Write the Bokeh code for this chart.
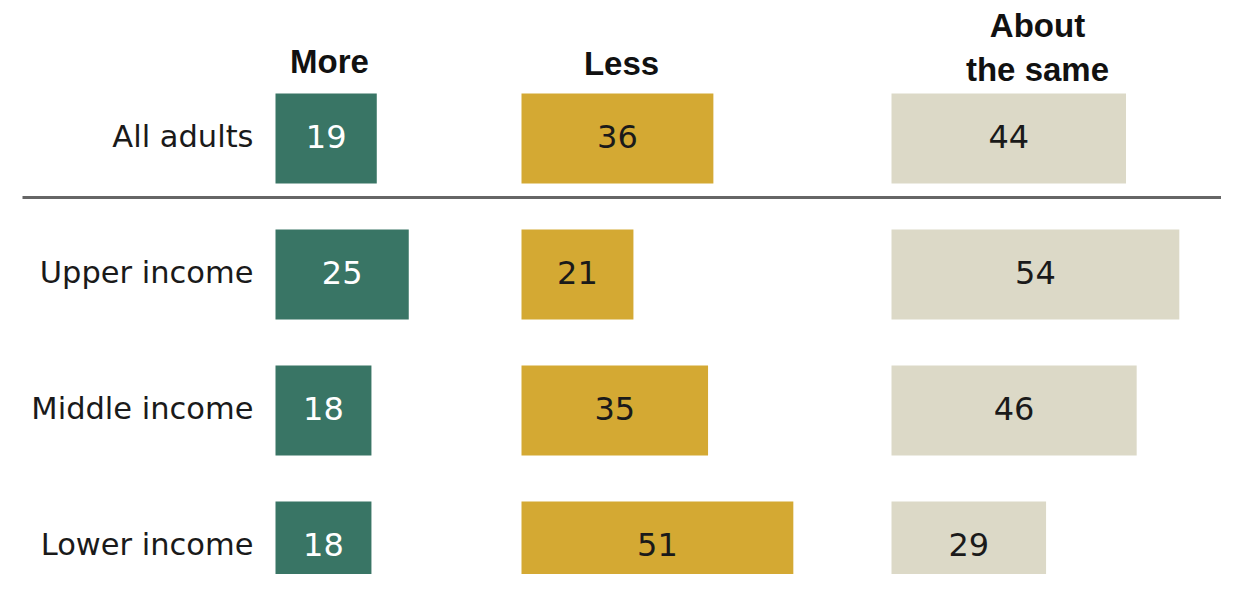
from bokeh.plotting import figure
from bokeh.models import Range1d, ColumnDataSource
from bokeh.core.properties import value
from bokeh.embed import file_html
from bokeh.resources import INLINE

# ---- data ----
groups = ["All adults", "Upper income", "Middle income", "Lower income"]
more = [19, 25, 18, 18]
less = [36, 21, 35, 51]
same = [44, 54, 46, 29]
headers = ["More", "Less", "About\nthe same"]

# ---- layout constants ----
W, H = 1221, 574
PX = 5.33            # pixels per percentage point
ROW = 136.0          # pixels per row
x_start = -275 / PX
x_end = x_start + W / PX
y_bottom = (H - 138) / ROW
y_top = (0 - 138) / ROW

off_more = 0.0
off_less = (521 - 275) / PX
off_same = (891 - 275) / PX
offsets = [off_more, off_less, off_same]
colors = ["#397565", "#D4A933", "#DCD9C7"]
txt_colors = ["#FFFFFF", "#1A1A1A", "#1A1A1A"]
series = [more, less, same]

FONT = "DejaVu Sans"
HFONT = "Liberation Sans"

p = figure(width=W, height=H, output_backend="svg", toolbar_location=None,
           x_range=Range1d(x_start, x_end), y_range=Range1d(y_bottom, y_top),
           min_border=0, min_border_left=0, min_border_right=0,
           min_border_top=0, min_border_bottom=0)
p.axis.visible = False
p.grid.visible = False
p.outline_line_color = None
p.background_fill_color = "white"
p.border_fill_color = "white"

ys = list(range(len(groups)))

for off, vals, c, tc in zip(offsets, series, colors, txt_colors):
    src = ColumnDataSource(dict(
        y=ys, left=[off] * len(vals), right=[off + v for v in vals],
        xc=[off + v / 2 for v in vals], ty=[y - 2 / ROW for y in ys],
        lab=[str(v) for v in vals]))
    p.hbar(y="y", left="left", right="right", height=90 / ROW, source=src,
           fill_color=c, line_color=None)
    p.text(x="xc", y="ty", text="lab", source=src, text_align="center",
           text_baseline="middle", text_color=tc,
           text_font=value(FONT), text_font_size="32px")

# row labels
lsrc = ColumnDataSource(dict(x=[(253 - 275) / PX] * len(groups),
                             y=[y - 2 / ROW for y in ys], t=groups))
p.text(x="x", y="y", text="t", source=lsrc, text_align="right",
       text_baseline="middle", text_color="#1A1A1A",
       text_font=value(FONT), text_font_size="30.5px")

# separator
p.segment(x0=[(22 - 275) / PX], x1=[(1233 - 275) / PX],
          y0=[(197 - 138) / ROW], y1=[(197 - 138) / ROW],
          line_color="#666666", line_width=3)

# headers
hx = [(329 - 275) / PX, (621 - 275) / PX, (1037 - 275) / PX]
hy = [(60.5 - 138) / ROW, (62.5 - 138) / ROW, (68.5 - 138) / ROW]
hsrc = ColumnDataSource(dict(x=hx, y=hy, t=[h.split("\n")[-1] for h in headers]))
p.text(x="x", y="y", text="t", source=hsrc, text_align="center",
       text_baseline="middle", text_color="#111111",
       text_font=value(HFONT), text_font_size="33px", text_font_style="bold")
h2 = ColumnDataSource(dict(x=[hx[2]], y=[(25 - 138) / ROW], t=[headers[2].split("\n")[0]]))
p.text(x="x", y="y", text="t", source=h2, text_align="center",
       text_baseline="middle", text_color="#111111",
       text_font=value(HFONT), text_font_size="33px", text_font_style="bold")

open("out.html", "w").write(file_html(p, INLINE))
